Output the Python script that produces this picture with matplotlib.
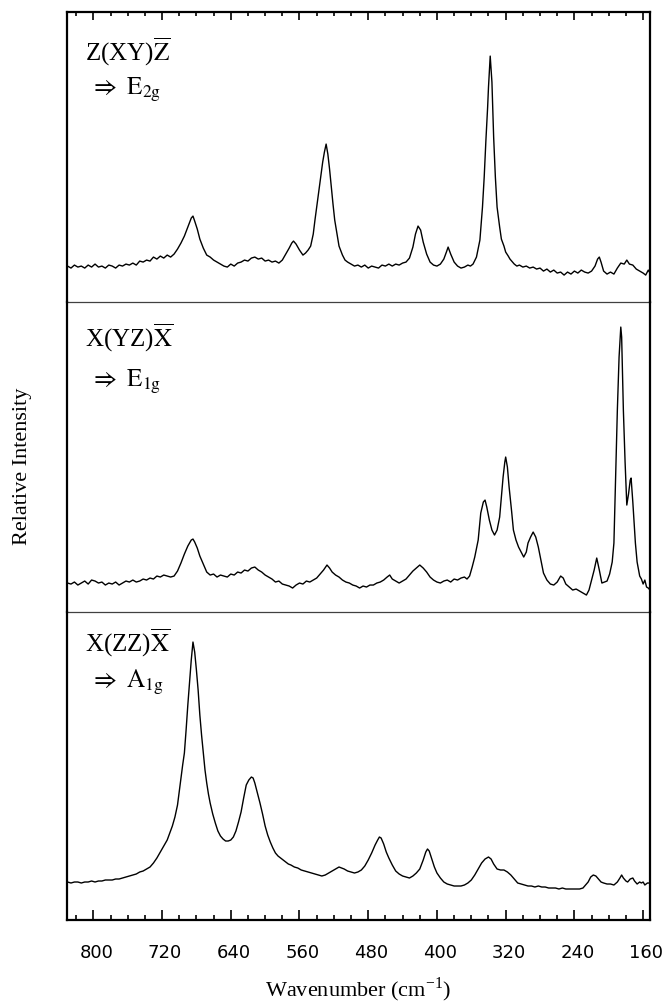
import matplotlib.pyplot as plt
from matplotlib.ticker import MultipleLocator
import matplotlib.transforms as mtransforms

plt.rcParams['font.family'] = 'Liberation Serif'
plt.rcParams['mathtext.fontset'] = 'stix'

# Z(XY)Zbar -> E2g
top_wn = [830, 826, 822, 818, 814, 810, 806, 802, 798, 794,
          790, 786, 782, 778, 774, 770, 766, 762, 758, 754,
          750, 746, 742, 738, 734, 730, 726, 722, 718, 714,
          710, 706, 702, 698, 694, 690, 686, 684, 682, 679,
          676, 672, 668, 664, 660, 656, 652, 648, 644, 640,
          636, 632, 628, 624, 620, 616, 612, 608, 604, 600,
          596, 592, 588, 584, 580, 576, 572, 569, 567, 564,
          560, 556, 553, 550, 547, 544, 542, 540, 537, 535,
          533, 531, 529, 527, 525, 523, 521, 519, 516, 514,
          510, 507, 504, 500, 496, 492, 488, 484, 480, 476,
          472, 468, 464, 460, 456, 452, 448, 444, 440, 436,
          432, 428, 425, 422, 419, 416, 412, 408, 404, 400,
          396, 392, 389, 387, 384, 380, 376, 372, 368, 364,
          361, 358, 354, 350, 347, 345, 343, 341, 340, 338,
          336, 334, 332, 330, 327, 325, 322, 320, 317, 315,
          312, 310, 307, 304, 300, 296, 292, 288, 284, 280,
          276, 272, 268, 264, 260, 256, 252, 248, 244, 240,
          236, 232, 228, 224, 220, 216, 213, 211, 209, 206,
          202, 198, 194, 190, 186, 182, 179, 176, 172, 168,
          164, 160, 157, 154, 152]
top_int = [36, 34, 37, 35, 36, 34, 37, 35, 38, 35,
           36, 34, 37, 36, 34, 37, 36, 38, 37, 39,
           37, 41, 40, 42, 41, 45, 43, 46, 44, 47,
           45, 48, 53, 59, 66, 75, 84, 86, 81, 73,
           63, 54, 47, 45, 42, 40, 38, 36, 35, 38,
           36, 39, 40, 42, 41, 44, 45, 43, 44, 41,
           42, 40, 41, 39, 42, 48, 54, 59, 61, 58,
           52, 47, 49, 52, 56, 68, 82, 95, 115, 128,
           140, 150, 158, 148, 133, 115, 98, 82, 66, 56,
           47, 42, 40, 38, 36, 37, 35, 37, 34, 36,
           35, 34, 37, 36, 38, 36, 38, 37, 39, 40,
           44, 55, 68, 76, 72, 60, 48, 40, 37, 36,
           38, 43, 50, 55, 48, 40, 36, 34, 35, 37,
           36, 38, 45, 62, 95, 125, 162, 195, 215, 246,
           220, 165, 125, 95, 75, 63, 56, 50, 46, 43,
           40, 38, 36, 37, 35, 36, 34, 35, 33, 34,
           31, 33, 30, 32, 29, 30, 27, 30, 28, 31,
           29, 32, 30, 29, 31, 36, 43, 45, 40, 31,
           28, 30, 28, 34, 39, 38, 42, 38, 37, 33,
           31, 29, 27, 32, 29]

# X(YZ)Xbar -> E1g
mid_wn = [830, 826, 822, 818, 814, 810, 806, 802, 798, 794,
          790, 786, 782, 778, 774, 770, 766, 762, 758, 754,
          750, 746, 742, 738, 734, 730, 726, 722, 718, 714,
          710, 706, 702, 698, 694, 690, 686, 684, 682, 679,
          676, 672, 668, 664, 660, 656, 652, 648, 644, 640,
          636, 632, 628, 624, 620, 616, 612, 608, 604, 600,
          596, 592, 588, 584, 580, 576, 572, 568, 564, 560,
          556, 552, 548, 544, 540, 536, 532, 528, 525, 522,
          518, 514, 510, 506, 502, 498, 494, 490, 486, 482,
          478, 474, 470, 466, 462, 458, 455, 452, 448, 444,
          440, 436, 432, 428, 424, 420, 416, 412, 408, 404,
          400, 396, 392, 388, 384, 380, 376, 372, 368, 365,
          362, 359, 356, 352, 349, 346, 344, 342, 339, 336,
          333, 330, 327, 325, 323, 321, 320, 318, 316, 313,
          311, 308, 305, 302, 299, 296, 294, 291, 288, 285,
          282, 279, 276, 272, 268, 264, 260, 256, 253, 250,
          246, 242, 238, 234, 230, 226, 223, 220, 217, 214,
          211, 208, 205, 202, 199, 196, 194, 192, 190, 188,
          186, 185, 183, 181, 179, 177, 175, 174, 172, 169,
          167, 164, 162, 160, 158, 156, 154, 152]
mid_int = [29, 28, 30, 27, 29, 31, 28, 32, 31, 29,
           30, 27, 29, 28, 30, 27, 29, 31, 30, 32,
           30, 31, 33, 32, 34, 33, 36, 35, 37, 36,
           35, 36, 41, 49, 58, 66, 72, 73, 70, 64,
           56, 48, 40, 37, 38, 35, 37, 36, 35, 38,
           37, 40, 39, 42, 41, 44, 45, 42, 40, 37,
           35, 33, 30, 31, 28, 27, 26, 24, 27, 29,
           28, 31, 30, 32, 34, 38, 42, 47, 44, 40,
           37, 35, 32, 30, 29, 27, 26, 24, 26, 25,
           27, 27, 29, 30, 32, 35, 37, 33, 31, 29,
           31, 33, 37, 41, 44, 47, 44, 40, 35, 32,
           30, 29, 31, 32, 30, 33, 32, 34, 35, 33,
           36, 45, 55, 72, 99, 110, 112, 105, 92, 82,
           77, 82, 95, 115, 135, 150, 155, 145, 125, 100,
           82, 72, 65, 60, 55, 60, 69, 75, 80, 75,
           65, 52, 39, 32, 28, 27, 30, 36, 34, 28,
           25, 22, 23, 21, 19, 17, 22, 32, 42, 54,
           42, 29, 30, 31, 38, 50, 69, 135, 202, 255,
           285, 275, 202, 150, 107, 118, 132, 134, 110, 69,
           50, 36, 33, 28, 32, 25, 24, 22]

# X(ZZ)Xbar -> A1g
bot_wn = [830, 826, 822, 818, 814, 810, 806, 802, 798, 794,
          790, 786, 782, 778, 774, 770, 766, 762, 758, 754,
          750, 746, 742, 738, 734, 730, 726, 722, 718, 714,
          711, 708, 705, 702, 699, 696, 694, 692, 690, 688,
          686, 684, 682, 680, 678, 676, 674, 672, 670, 668,
          666, 664, 661, 658, 655, 652, 649, 646, 643, 640,
          637, 634, 631, 628, 625, 622, 619, 616, 614, 612,
          609, 606, 603, 600, 597, 594, 591, 588, 585, 582,
          579, 576, 573, 570, 566, 562, 558, 554, 550, 546,
          542, 538, 534, 530, 526, 522, 518, 514, 511, 508,
          504, 500, 496, 492, 488, 484, 480, 476, 472, 469,
          467, 465, 462, 459, 456, 452, 448, 444, 440, 436,
          432, 428, 424, 420, 416, 413, 411, 409, 406, 403,
          400, 396, 392, 388, 384, 380, 376, 372, 368, 364,
          360, 356, 352, 348, 344, 340, 337, 334, 330, 326,
          322, 318, 314, 310, 306, 302, 298, 294, 290, 286,
          282, 278, 274, 270, 266, 262, 258, 254, 250, 246,
          242, 238, 234, 230, 227, 224, 221, 218, 215, 212,
          209, 206, 202, 198, 194, 190, 187, 185, 183, 180,
          178, 175, 172, 170, 167, 164, 162, 160, 158, 155,
          152]
bot_int = [38, 37, 38, 38, 37, 38, 38, 39, 38, 39,
           39, 40, 40, 40, 41, 41, 42, 43, 44, 45,
           46, 48, 49, 51, 53, 57, 62, 68, 74, 80,
           87, 94, 103, 115, 135, 155, 167, 190, 215, 238,
           260, 278, 268, 250, 230, 205, 185, 167, 150, 137,
           126, 117, 106, 97, 89, 84, 81, 79, 79, 80,
           83, 89, 98, 108, 122, 135, 140, 143, 142, 137,
           127, 117, 106, 94, 85, 78, 72, 67, 64, 62,
           60, 58, 56, 55, 53, 52, 50, 49, 48, 47,
           46, 45, 44, 45, 47, 49, 51, 53, 52, 51,
           49, 48, 47, 48, 50, 54, 60, 67, 75, 80,
           83, 82, 76, 68, 62, 55, 49, 46, 44, 43,
           42, 44, 47, 51, 60, 68, 71, 69, 61, 53,
           47, 42, 38, 36, 35, 34, 34, 34, 35, 37,
           40, 45, 51, 57, 61, 63, 61, 56, 51, 50,
           50, 48, 45, 41, 37, 36, 35, 34, 34, 33,
           34, 33, 33, 32, 32, 32, 31, 32, 31, 31,
           31, 31, 31, 32, 35, 38, 43, 45, 44, 41,
           38, 37, 36, 36, 35, 38, 42, 45, 42, 39,
           38, 41, 42, 39, 36, 38, 37, 38, 35, 37,
           37]

geometries = ['Z(XY)$\\overline{\\mathrm{Z}}$',
              'X(YZ)$\\overline{\\mathrm{X}}$',
              'X(ZZ)$\\overline{\\mathrm{X}}$']
modes = ['$\\Rightarrow\\ \\mathrm{E_{2g}}$',
         '$\\Rightarrow\\ \\mathrm{E_{1g}}$',
         '$\\Rightarrow\\ \\mathrm{A_{1g}}$']
tick_vals = [800, 720, 640, 560, 480, 400, 320, 240, 160]

heights = [290, 310, 308]
spectra = [(top_wn, top_int), (mid_wn, mid_int), (bot_wn, bot_int)]
label_y = [(0.862, 0.731), (0.884, 0.742), (0.90, 0.773)]

fig = plt.figure(figsize=(6.71, 10.08), dpi=100)
gs = fig.add_gridspec(3, 1, left=0.0999, right=0.9687, top=0.988,
                      bottom=0.0873, hspace=0, height_ratios=heights)
axes = [fig.add_subplot(gs[i]) for i in range(3)]

for i, ax in enumerate(axes):
    wn, inten = spectra[i]
    ax.patch.set_visible(False)
    ax.plot(wn, inten, color='black', lw=1.0)
    ax.set_xlim(830.6, 152)
    ax.set_ylim(0, heights[i])
    ax.set_yticks([])
    for s in ['left', 'right', 'top', 'bottom']:
        ax.spines[s].set_linewidth(1.6)
    ax.text(0.031, label_y[i][0], geometries[i], transform=ax.transAxes,
            fontsize=18, va='center', ha='left')
    ax.text(0.04, label_y[i][1], modes[i], transform=ax.transAxes,
            fontsize=18, va='center', ha='left')
    ax.xaxis.set_major_locator(MultipleLocator(80))
    ax.xaxis.set_minor_locator(MultipleLocator(20))

# thin dividers between the panels
for ax in axes[:2]:
    ax.spines['bottom'].set_linewidth(0.9)
    ax.spines['bottom'].set_color('0.25')
for ax in axes[1:]:
    ax.spines['top'].set_visible(False)

# top panel: ticks along the top edge only
axes[0].tick_params(axis='x', which='both', direction='in', bottom=False,
                    top=True, labelbottom=False, labeltop=False)
axes[0].tick_params(axis='x', which='major', length=5.5, width=1.2)
axes[0].tick_params(axis='x', which='minor', length=3, width=1.2)

axes[1].tick_params(axis='x', which='both', bottom=False, top=False,
                    labelbottom=False)

ax3 = axes[2]
ax3.set_xticks(tick_vals)
ax3.xaxis.set_minor_locator(MultipleLocator(20))
ax3.tick_params(axis='x', which='both', direction='in', top=False)
ax3.tick_params(axis='x', which='major', length=7, width=1.2,
                labelsize=13, pad=17)
ax3.tick_params(axis='x', which='minor', length=3.5, width=1.2)
offset = mtransforms.ScaledTranslation(0.03, 0, fig.dpi_scale_trans)
for lbl in ax3.get_xticklabels():
    lbl.set_fontfamily('DejaVu Sans')
    lbl.set_transform(lbl.get_transform() + offset)

fig.text(0.033, 0.5377, 'Relative Intensity', rotation=90, fontsize=16,
         va='center', ha='center')
fig.text(0.534, 1 - 990 / 1008, 'Wavenumber (cm$^{\\mathregular{-1}}$)',
         fontsize=16, va='center', ha='center')

fig.savefig('out.png', dpi=100)
